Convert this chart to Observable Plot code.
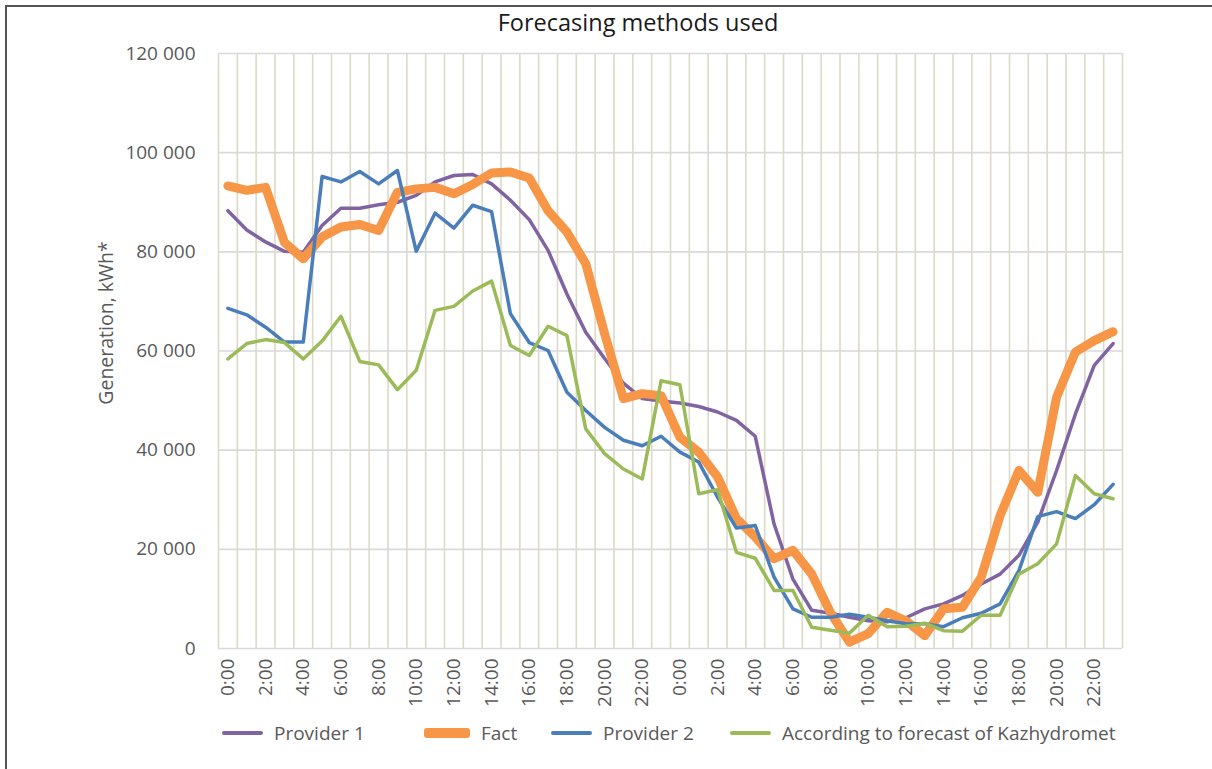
<!DOCTYPE html>
<html>
<head>
<meta charset="utf-8">
<script src="https://cdn.jsdelivr.net/npm/d3@7"></script>
<script src="https://cdn.jsdelivr.net/npm/@observablehq/plot@0.6"></script>
<style>
  html, body { margin: 0; padding: 0; background: #fff; }
  #wrap { position: relative; width: 1212px; height: 769px; overflow: hidden; font-family: "Open Sans", "Noto Sans", sans-serif; }
  #frameTop { position: absolute; left: 5px; top: 5px; width: 1207px; height: 0; border-top: 2px solid #555; }
  #frameLeft { position: absolute; left: 5px; top: 5px; width: 0; height: 764px; border-left: 2px solid #555; }
  #title { position: absolute; left: 0; width: 1276px; top: 6px; text-align: center; font-size: 23.5px; color: #1a1a1a; }
  #ylabel { position: absolute; left: 105px; top: 323px; transform: translate(-50%, -50%) rotate(-90deg); white-space: nowrap; font-size: 19.5px; color: #595959; }
  #chart { position: absolute; left: -1px; top: 33px; }
  .lg { position: absolute; top: 720px; font-size: 19px; color: #595959; white-space: nowrap; display: flex; align-items: center; }
  .sw { display: inline-block; border-radius: 3px; margin-right: 11px; }
</style>
</head>
<body>
<div id="wrap">
  <div id="frameTop"></div>
  <div id="frameLeft"></div>
  <div id="title">Forecasing methods used</div>
  <div id="ylabel">Generation, kWh*</div>
  <div id="chart"></div>
  <div id="legend"></div>
</div>
<script>
const timeLabels = [
  "0:00","1:00","2:00","3:00","4:00","5:00","6:00","7:00","8:00","9:00","10:00","11:00",
  "12:00","13:00","14:00","15:00","16:00","17:00","18:00","19:00","20:00","21:00","22:00","23:00",
  "0:00","1:00","2:00","3:00","4:00","5:00","6:00","7:00","8:00","9:00","10:00","11:00",
  "12:00","13:00","14:00","15:00","16:00","17:00","18:00","19:00","20:00","21:00","22:00","23:00"
];
const seriesNames = ["Provider 1", "Fact", "Provider 2", "According to forecast of Kazhydromet"];
const provider1 = [
  88300, 84400, 82000, 80100, 79900, 85300, 88800, 88800, 89500, 90000, 91400, 94100,
  95400, 95600, 93700, 90400, 86500, 80300, 71500, 63800, 58500, 53500, 50400, 49900,
  49500, 48800, 47700, 46000, 42800, 25100, 14000, 7700, 7100, 6300, 5600, 5400,
  6200, 8000, 9000, 10700, 13000, 15000, 18800, 25500, 35900, 47300, 57100, 61500
];
const fact = [
  93300, 92400, 93000, 81900, 78600, 83000, 85000, 85500, 84300, 92000, 92700, 93000,
  91700, 93600, 95900, 96100, 94900, 88300, 84000, 77600, 63500, 50400, 51400, 51000,
  42600, 39600, 34600, 26200, 22500, 18100, 19800, 15000, 7200, 1300, 3000, 7300,
  5600, 2600, 8000, 8300, 14400, 26800, 35900, 31500, 50700, 59800, 62100, 63900
];
const provider2 = [
  68600, 67300, 64800, 61800, 61800, 95200, 94100, 96200, 93700, 96400, 80100, 87800,
  84800, 89400, 88100, 67500, 61700, 60100, 51700, 48000, 44600, 42000, 40900, 42800,
  39600, 37600, 30500, 24300, 24800, 14400, 8000, 6300, 6300, 6900, 6300, 5600,
  5000, 5000, 4400, 6200, 7100, 9000, 15700, 26600, 27600, 26200, 29000, 33100
];
const kazhydromet = [
  58400, 61500, 62300, 61700, 58400, 62000, 67000, 57900, 57200, 52200, 56100, 68200,
  69000, 72100, 74100, 61100, 59100, 65000, 63100, 44300, 39300, 36200, 34200, 54000,
  53200, 31200, 32000, 19400, 18200, 11700, 11700, 4300, 3700, 3100, 6700, 4400,
  4500, 5100, 3600, 3500, 6700, 6700, 15000, 17100, 21100, 34900, 31200, 30200
];
const yTicks = [0, 20000, 40000, 60000, 80000, 100000, 120000];
const xTickIdx = d3.range(0, 48, 2);

const colors = ["#8064A2", "#F79646", "#4A7EBB", "#9BBB59"];
const widths = [3.5, 9, 3.5, 3.5];
const allValues = [provider1, fact, provider2, kazhydromet];

const rows = [];
allValues.forEach((vals, s) => vals.forEach((v, i) => rows.push({i: i + 0.5, label: timeLabels[i], series: seriesNames[s], value: v})));

const fmt = d => d3.format(",")(d).replace(/,/g, " ");

const chart = Plot.plot({
  width: 1212,
  height: 690,
  marginLeft: 219,
  marginRight: 89,
  marginTop: 20,
  marginBottom: 75,
  style: {fontFamily: "'Open Sans', 'Noto Sans', sans-serif", fontSize: "19px", color: "#595959", background: "transparent"},
  x: {type: "linear", domain: [0, 48]},
  y: {domain: [0, 120000]},
  marks: [
    Plot.ruleX(d3.range(0, 49), {stroke: "#DCD9C6", strokeWidth: 1.6}),
    Plot.gridY(yTicks, {stroke: "#D9D9D9", strokeOpacity: 1, strokeWidth: 1.6}),
    Plot.axisY(yTicks, {tickFormat: fmt, tickSize: 0, tickPadding: 23, label: null, fontSize: 19, fill: "#595959"}),
    Plot.axisX(xTickIdx.map(i => i + 0.5), {tickFormat: d => timeLabels[d - 0.5], tickRotate: -90, tickSize: 0, tickPadding: 10, label: null, fontSize: 19, fill: "#595959"}),
    ...seriesNames.map((name, s) => Plot.line(rows.filter(r => r.series === name), {
      x: "i", y: "value", stroke: colors[s], strokeWidth: widths[s], strokeLinejoin: "round", strokeLinecap: "round"
    }))
  ]
});
document.getElementById("chart").appendChild(chart);

const legendPos = [
  {sw: 222, h: 4},
  {sw: 424, h: 10},
  {sw: 551, h: 4},
  {sw: 730, h: 4}
];
const legend = document.getElementById("legend");
seriesNames.forEach((name, s) => {
  const d = document.createElement("div");
  d.className = "lg";
  d.style.left = legendPos[s].sw + "px";
  d.innerHTML = `<span class="sw" style="background:${colors[s]};height:${legendPos[s].h}px;width:${s===1?46:41}px"></span><span>${name}</span>`;
  legend.appendChild(d);
});
</script>
</body>
</html>
